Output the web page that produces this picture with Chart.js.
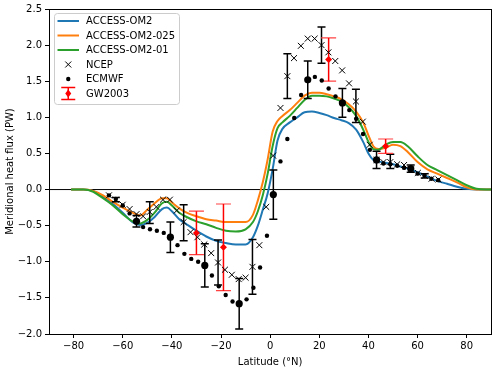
<!DOCTYPE html>
<html>
<head>
<meta charset="utf-8">
<script src="https://cdn.jsdelivr.net/npm/chart.js@4/dist/chart.umd.min.js"></script>
<style>
  body { margin: 0; background: #fff; }
  #wrap { width: 500px; height: 368px; }
</style>
</head>
<body>
<div id="wrap"><canvas id="chartContainer" width="500" height="368"></canvas></div>
<script>
// model curves (latitude in degrees N, heat flux in PW)
let lats = [-81, -76, -72, -68, -64, -60, -56, -53, -50, -47, -44, -42, -40, -37, -34, -30, -26, -22, -18, -14, -10, -7, -5, -3, -1, 1, 3, 5, 8, 11, 14, 17, 20, 23, 26, 29, 32, 35, 38, 40, 42, 44, 47, 50, 53, 56, 60, 64, 68, 72, 76, 80, 84, 88, 90];
let om2 = [0, 0, -0.02, -0.1, -0.2, -0.32, -0.45, -0.49, -0.46, -0.38, -0.27, -0.25, -0.3, -0.41, -0.48, -0.57, -0.65, -0.71, -0.74, -0.76, -0.76, -0.66, -0.5, -0.28, -0.05, 0.28, 0.68, 0.84, 0.93, 1.0, 1.07, 1.08, 1.06, 1.03, 0.99, 0.96, 0.92, 0.83, 0.65, 0.5, 0.41, 0.39, 0.37, 0.35, 0.32, 0.29, 0.24, 0.18, 0.12, 0.08, 0.04, 0.01, 0, 0, 0];
let om2025 = [0, 0, -0.02, -0.08, -0.17, -0.25, -0.32, -0.36, -0.28, -0.19, -0.12, -0.12, -0.18, -0.26, -0.32, -0.37, -0.41, -0.43, -0.45, -0.45, -0.45, -0.35, -0.15, 0.1, 0.42, 0.8, 0.95, 1.02, 1.1, 1.2, 1.3, 1.34, 1.34, 1.32, 1.29, 1.25, 1.18, 1.08, 0.92, 0.75, 0.6, 0.56, 0.58, 0.62, 0.6, 0.52, 0.38, 0.28, 0.22, 0.16, 0.1, 0.03, 0, 0, 0];
let om201 = [0, 0, -0.03, -0.12, -0.22, -0.34, -0.44, -0.47, -0.42, -0.32, -0.19, -0.17, -0.22, -0.32, -0.38, -0.44, -0.48, -0.53, -0.57, -0.58, -0.55, -0.45, -0.3, -0.08, 0.22, 0.6, 0.85, 0.93, 1.02, 1.13, 1.24, 1.3, 1.3, 1.29, 1.26, 1.22, 1.14, 1.02, 0.82, 0.66, 0.56, 0.55, 0.62, 0.66, 0.66, 0.6, 0.46, 0.34, 0.27, 0.2, 0.13, 0.06, 0.01, 0, 0];

// NCEP crosses
let ncepLat = [-65.6, -62.8, -60, -57.2, -54.4, -51.7, -49, -46.3, -43.6, -40.8, -38, -35.2, -32.4, -29.6, -26.8, -24, -21.2, -18.4, -15.6, -12.8, -10, -7.2, -4.4, -1.6, 1.2, 4.2, 7, 9.7, 12.5, 15.3, 18.1, 20.9, 23.7, 26.5, 29.3, 32.1, 34.9, 37.7, 40.5, 43.3, 46.1, 48.9, 51.7, 54.5, 57.3, 60.1, 62.9, 65.7, 68.5];
let ncepVal = [-0.08, -0.14, -0.21, -0.27, -0.34, -0.37, -0.31, -0.24, -0.14, -0.14, -0.29, -0.45, -0.59, -0.66, -0.76, -0.88, -1.01, -1.11, -1.18, -1.24, -1.22, -1.07, -0.77, -0.24, 0.47, 1.13, 1.57, 1.82, 1.99, 2.09, 2.09, 2.0, 1.9, 1.78, 1.65, 1.47, 1.22, 0.94, 0.62, 0.41, 0.38, 0.38, 0.35, 0.34, 0.28, 0.23, 0.19, 0.15, 0.14];
// NCEP error bars
let ncepBarLat = [-62.8, -49, -35.2, -21.2, -7.2, 7, 20.9, 34.9, 48.9, 62.9];
let ncepBarVal = [-0.14, -0.32, -0.46, -1.01, -1.07, 1.57, 2.0, 1.16, 0.39, 0.19];
let ncepBarErr = [0.03, 0.15, 0.25, 0.31, 0.38, 0.31, 0.25, 0.23, 0.1, 0.03];

// ECMWF small dots
let ecmwfLat = [-65.6, -62.8, -60, -57.2, -51.7, -48.9, -46.1, -43.3, -37.7, -34.9, -32.1, -29.3, -23.7, -20.9, -18.1, -15.3, -9.6, -6.8, -4.1, -1.3, 4.2, 7, 9.8, 12.6, 18.2, 21, 23.8, 26.6, 32.2, 35, 37.8, 40.6, 46.1, 48.9, 51.7, 54.5, 60, 62.8, 65.6, 68.4];
let ecmwfVal = [-0.08, -0.13, -0.22, -0.33, -0.52, -0.55, -0.57, -0.6, -0.77, -0.89, -0.96, -1.0, -1.19, -1.34, -1.46, -1.55, -1.52, -1.36, -1.08, -0.64, 0.39, 0.7, 0.99, 1.31, 1.56, 1.51, 1.4, 1.29, 1.1, 0.98, 0.77, 0.55, 0.36, 0.35, 0.33, 0.3, 0.22, 0.19, 0.15, 0.13];
// ECMWF big dots with error bars
let ecmwfBarLat = [-54.4, -40.6, -26.6, -12.6, 1.3, 15.3, 29.4, 43.3, 57.2];
let ecmwfBarVal = [-0.44, -0.66, -1.05, -1.58, -0.07, 1.52, 1.2, 0.41, 0.29];
let ecmwfBarErr = [0.08, 0.21, 0.3, 0.35, 0.34, 0.26, 0.2, 0.12, 0.05];

// GW2003 estimates
let gwLat = [-30, -19, 23.8, 47];
let gwVal = [-0.6, -0.8, 1.8, 0.6];
let gwErr = [0.3, 0.6, 0.3, 0.1];

// axes
let xTicks = [-80, -60, -40, -20, 0, 20, 40, 60, 80];
let yTicks = [-2.0, -1.5, -1.0, -0.5, 0.0, 0.5, 1.0, 1.5, 2.0, 2.5];

let fontFamily = "'DejaVu Sans', sans-serif";

// turn two arrays into {x, y} points
function toPoints(xs, ys) {
  let pts = [];
  for (let i = 0; i < xs.length; i++) {
    pts.push({ x: xs[i], y: ys[i] });
  }
  return pts;
}

// vertical bars, broken by gaps
function barPoints(xs, ys, errs) {
  let pts = [];
  for (let i = 0; i < xs.length; i++) {
    pts.push({ x: xs[i], y: ys[i] - errs[i] });
    pts.push({ x: xs[i], y: ys[i] + errs[i] });
    pts.push({ x: xs[i], y: null });
  }
  return pts;
}

// end caps of the bars
function capPoints(xs, ys, errs) {
  let pts = [];
  for (let i = 0; i < xs.length; i++) {
    pts.push({ x: xs[i], y: ys[i] - errs[i] });
    pts.push({ x: xs[i], y: ys[i] + errs[i] });
  }
  return pts;
}

function curve(label, ys, color, order) {
  return {
    label: label,
    data: toPoints(lats, ys),
    borderColor: color,
    backgroundColor: color,
    borderWidth: 2,
    pointRadius: 0,
    cubicInterpolationMode: 'monotone',
    order: order
  };
}

function markers(label, pts, style, radius, color, width, order) {
  return {
    label: label,
    data: pts,
    showLine: false,
    pointStyle: style,
    pointRadius: radius,
    borderColor: color,
    backgroundColor: color,
    borderWidth: width,
    order: order
  };
}

function bars(pts, color, width, order) {
  return {
    label: '',
    data: pts,
    borderColor: color,
    borderWidth: width,
    pointRadius: 0,
    spanGaps: false,
    order: order
  };
}

// legend drawn like the matplotlib box in the top left corner
const legendPlugin = {
  id: 'boxLegend',
  afterDraw(chart) {
    const ctx = chart.ctx;
    const bx = 54, by = 13, bw = 125, bh = 91;
    ctx.save();
    ctx.beginPath();
    ctx.roundRect(bx + 0.5, by + 0.5, bw, bh, 3);
    ctx.fillStyle = 'rgba(255,255,255,0.8)';
    ctx.fill();
    ctx.strokeStyle = '#cccccc';
    ctx.lineWidth = 1;
    ctx.stroke();

    const rows = [21, 35.5, 50, 64.5, 79, 93.5];
    const labels = ['ACCESS-OM2', 'ACCESS-OM2-025', 'ACCESS-OM2-01', 'NCEP', 'ECMWF', 'GW2003'];
    const colors = ['#1f77b4', '#ff7f0e', '#2ca02c'];
    const x0 = 57.5, x1 = 79, xc = 68.25;

    for (let i = 0; i < 3; i++) {
      ctx.beginPath();
      ctx.moveTo(x0, rows[i]);
      ctx.lineTo(x1, rows[i]);
      ctx.strokeStyle = colors[i];
      ctx.lineWidth = 2;
      ctx.stroke();
    }
    // NCEP x
    ctx.beginPath();
    ctx.moveTo(xc - 3, rows[3] - 3);
    ctx.lineTo(xc + 3, rows[3] + 3);
    ctx.moveTo(xc - 3, rows[3] + 3);
    ctx.lineTo(xc + 3, rows[3] - 3);
    ctx.strokeStyle = '#000';
    ctx.lineWidth = 1;
    ctx.stroke();
    // ECMWF dot
    ctx.beginPath();
    ctx.arc(xc, rows[4], 2.2, 0, Math.PI * 2);
    ctx.fillStyle = '#000';
    ctx.fill();
    // GW2003 error bar with diamond
    ctx.strokeStyle = '#ff0000';
    ctx.lineWidth = 1.5;
    ctx.beginPath();
    ctx.moveTo(xc, rows[5] - 6);
    ctx.lineTo(xc, rows[5] + 6);
    ctx.moveTo(xc - 7, rows[5] - 6);
    ctx.lineTo(xc + 7, rows[5] - 6);
    ctx.moveTo(xc - 7, rows[5] + 6);
    ctx.lineTo(xc + 7, rows[5] + 6);
    ctx.stroke();
    ctx.beginPath();
    ctx.moveTo(xc, rows[5] - 4);
    ctx.lineTo(xc + 3, rows[5]);
    ctx.lineTo(xc, rows[5] + 4);
    ctx.lineTo(xc - 3, rows[5]);
    ctx.closePath();
    ctx.fillStyle = '#ff0000';
    ctx.fill();

    ctx.fillStyle = '#000';
    ctx.font = '10px ' + fontFamily;
    ctx.textBaseline = 'middle';
    ctx.textAlign = 'left';
    for (let i = 0; i < labels.length; i++) {
      ctx.fillText(labels[i], 86, rows[i] + 0.5);
    }
    ctx.restore();
  }
};

// full frame around the plot, like matplotlib spines
const framePlugin = {
  id: 'frame',
  afterDatasetsDraw(chart) {
    const a = chart.chartArea;
    const ctx = chart.ctx;
    ctx.save();
    ctx.strokeStyle = '#000';
    ctx.lineWidth = 1;
    ctx.strokeRect(Math.round(a.left) + 0.5, Math.round(a.top) + 0.5, Math.round(a.right - a.left), Math.round(a.bottom - a.top));
    ctx.restore();
  }
};

function appendChart() {
  let canvas = document.getElementById('chartContainer');
  new Chart(canvas, {
    type: 'line',
    data: {
      datasets: [
        { label: '', data: [{ x: -90, y: 0 }, { x: 90, y: 0 }], borderColor: '#000', borderWidth: 1, pointRadius: 0, order: 9 },
        curve('ACCESS-OM2', om2, '#1f77b4', 8),
        curve('ACCESS-OM2-025', om2025, '#ff7f0e', 7),
        curve('ACCESS-OM2-01', om201, '#2ca02c', 6),
        bars(barPoints(ncepBarLat, ncepBarVal, ncepBarErr), '#000', 1.5, 4),
        markers('', capPoints(ncepBarLat, ncepBarVal, ncepBarErr), 'line', 4, '#000', 1.5, 4),
        bars(barPoints(ecmwfBarLat, ecmwfBarVal, ecmwfBarErr), '#000', 1.5, 4),
        markers('', capPoints(ecmwfBarLat, ecmwfBarVal, ecmwfBarErr), 'line', 4, '#000', 1.5, 4),
        bars(barPoints(gwLat, gwVal, gwErr), '#ff0000', 1.5, 3),
        markers('', capPoints(gwLat, gwVal, gwErr), 'line', 7.5, '#ff4040', 1.2, 3),
        markers('NCEP', toPoints(ncepLat, ncepVal), 'crossRot', 4.2, '#000', 1, 2),
        markers('ECMWF', toPoints(ecmwfLat, ecmwfVal), 'circle', 2.2, '#000', 0, 2),
        markers('', toPoints(ecmwfBarLat, ecmwfBarVal), 'circle', 3.6, '#000', 0, 1),
        markers('GW2003', toPoints(gwLat, gwVal), 'rectRot', 3.5, '#ff0000', 0, 0)
      ]
    },
    options: {
      responsive: false,
      devicePixelRatio: 1,
      animation: false,
      layout: { padding: { top: 8, right: 5, left: 0, bottom: 0 } },
      plugins: {
        legend: { display: false },
        tooltip: { enabled: false }
      },
      scales: {
        x: {
          type: 'linear',
          min: -90,
          max: 90,
          afterBuildTicks: (scale) => { scale.ticks = xTicks.map(v => ({ value: v })); },
          afterFit: (scale) => { scale.height = 34; },
          grid: { display: true, drawOnChartArea: false, drawTicks: true, tickLength: 4, color: '#000' },
          border: { display: true, color: '#000' },
          ticks: {
            color: '#000',
            padding: 2,
            font: { family: fontFamily, size: 10 },
            callback: (v) => String(v).replace('-', '\u2212')
          },
          title: { display: true, text: 'Latitude (°N)', color: '#000', padding: { top: 0, bottom: 0 }, font: { family: fontFamily, size: 10 } }
        },
        y: {
          type: 'linear',
          min: -2,
          max: 2.5,
          afterBuildTicks: (scale) => { scale.ticks = yTicks.map(v => ({ value: v })); },
          afterFit: (scale) => { scale.width = 49; },
          grid: { display: true, drawOnChartArea: false, drawTicks: true, tickLength: 4, color: '#000' },
          border: { display: true, color: '#000' },
          ticks: {
            color: '#000',
            padding: 3,
            font: { family: fontFamily, size: 10 },
            callback: (v) => v.toFixed(1).replace('-', '\u2212')
          },
          title: { display: true, text: 'Meridional heat flux (PW)', color: '#000', padding: { top: 4, bottom: 0 }, font: { family: fontFamily, size: 10 } }
        }
      }
    },
    plugins: [framePlugin, legendPlugin]
  });
}

appendChart();
</script>
</body>
</html>
